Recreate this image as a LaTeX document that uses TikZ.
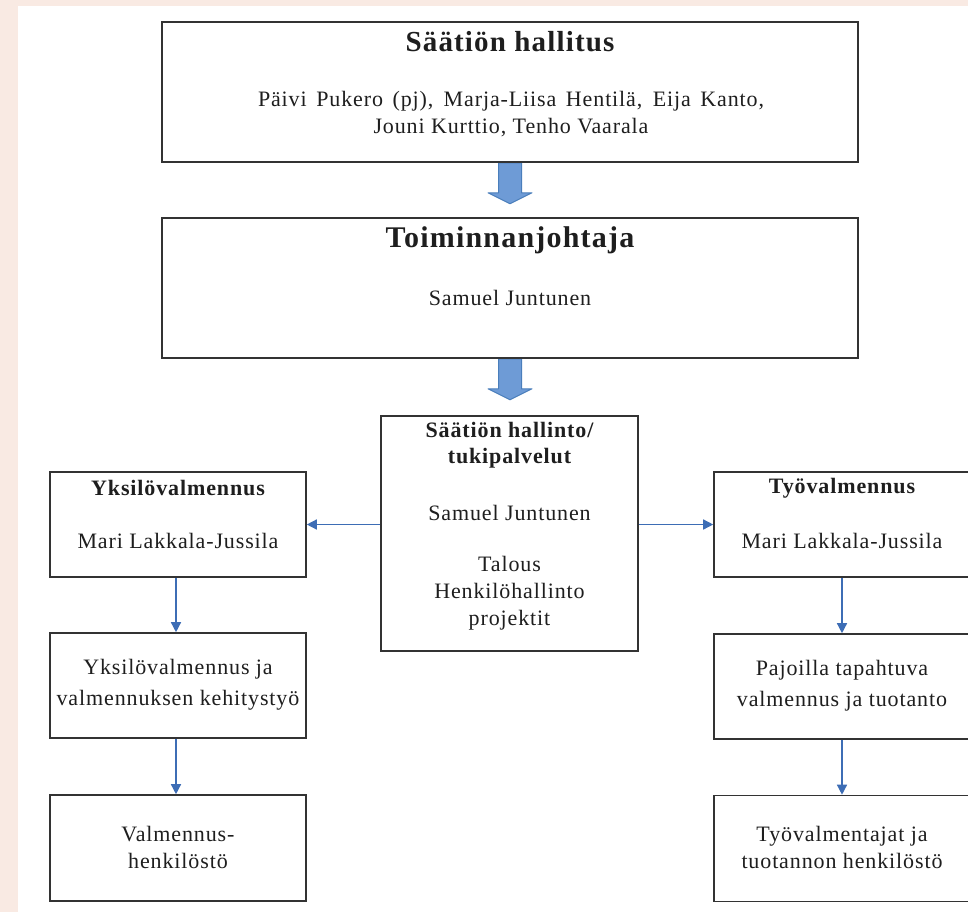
\documentclass[tikz,border=0pt]{standalone}
\usepackage{fontspec}
\setmainfont{Liberation Serif}[LetterSpace=4]
\usetikzlibrary{arrows.meta}
\pgfdeclarelayer{background}
\pgfsetlayers{background,main}
\definecolor{bgpink}{RGB}{249,234,227}
\definecolor{boxline}{RGB}{51,51,51}
\definecolor{connblue}{RGB}{61,109,181}
\definecolor{blkfill}{RGB}{110,155,214}
\definecolor{blkline}{RGB}{74,126,187}
\definecolor{txtcol}{RGB}{30,30,30}
\tikzset{
  box/.style={draw=boxline, line width=1.6pt, rectangle, inner sep=0pt},
  txt/.style={text=txtcol, align=center, font=\fontsize{22}{27}\selectfont, inner sep=0pt},
  ttl/.style={text=txtcol, align=center, font=\bfseries\fontsize{22}{26}\selectfont, inner sep=0pt},
  conn/.style={draw=connblue, line width=1.4pt, -{Triangle[length=10pt,width=10pt]}},
  blk/.style={fill=blkfill, draw=blkline, line width=1pt, line join=round},
}
\begin{document}
\begin{tikzpicture}[x=1pt,y=-1pt]
\useasboundingbox (0,0) rectangle (968,912);
% boxes
\node[box, minimum width=696pt, minimum height=140pt] (hall) at (510,92) {};
\node[box, minimum width=696pt, minimum height=140pt] (tj) at (510,288) {};
\node[box, minimum width=257pt, minimum height=235pt] (mid) at (509.5,533.5) {};
\node[box, minimum width=256pt, minimum height=105pt] (L1) at (178,524.5) {};
\node[box, minimum width=256pt, minimum height=105pt] (L2) at (178,685.5) {};
\node[box, minimum width=256pt, minimum height=106pt] (L3) at (178,848) {};
\node[box, minimum width=256pt, minimum height=105pt] (R1) at (842,524.5) {};
\node[box, minimum width=256pt, minimum height=105pt] (R2) at (842,686.5) {};
\node[box, minimum width=256pt, minimum height=106pt] (R3) at (842,848.5) {};
% background layer
\begin{pgfonlayer}{background}
\fill[bgpink] (0,0) rectangle (968,912);
\fill[white] (18,6) rectangle (968,912);
\draw[blk] (hall.south) ++(-11.5,0) -- ++(0,30) -- ++(-10.5,0) -- ++(22,11) -- ++(22,-11) -- ++(-10.5,0) -- ++(0,-30) -- cycle;
\draw[blk] (tj.south) ++(-11.5,0) -- ++(0,30) -- ++(-10.5,0) -- ++(22,11) -- ++(22,-11) -- ++(-10.5,0) -- ++(0,-30) -- cycle;
\end{pgfonlayer}
% texts
\node[ttl, font=\bfseries\fontsize{29}{32}\selectfont] (hallT) at (510,42) {Säätiön hallitus};
\node[txt] (hallB) at (511,114) {\makebox[506pt][s]{Päivi Pukero (pj), Marja-Liisa Hentilä, Eija Kanto,}\\Jouni Kurttio, Tenho Vaarala};
\node[ttl, font=\bfseries\fontsize{30}{32}\selectfont] (tjT) at (510,240) {Toiminnanjohtaja};
\node[txt] (tjB) at (510,298) {Samuel Juntunen};
\node[ttl] (midT) at (509.5,445) {Säätiön hallinto/\\tukipalvelut};
\node[txt] (midN) at (509.5,513) {Samuel Juntunen};
\node[txt] (midB) at (509.5,593) {Talous\\Henkilöhallinto\\projektit};
\node[ttl] (L1T) at (178,488) {Yksilövalmennus};
\node[txt] (L1B) at (178,541) {Mari Lakkala-Jussila};
\node[txt, font=\fontsize{22}{31}\selectfont] (L2B) at (178,685) {Yksilövalmennus ja\\valmennuksen kehitystyö};
\node[txt] (L3B) at (178,847) {Valmennus-\\henkilöstö};
\node[ttl] (R1T) at (842,488) {Työvalmennus};
\node[txt] (R1B) at (842,541) {Mari Lakkala-Jussila};
\node[txt, font=\fontsize{22}{31}\selectfont] (R2B) at (842,686) {Pajoilla tapahtuva\\valmennus ja tuotanto};
\node[txt] (R3B) at (842,847) {Työvalmentajat ja\\tuotannon henkilöstö};
% connectors
\draw[conn] (mid.west |- L1.east) -- (L1.east);
\draw[conn] (mid.east |- R1.west) -- (R1.west);
\draw[conn] ([xshift=-2pt]L1.south) -- ([xshift=-2pt]L2.north);
\draw[conn] ([xshift=-2pt]L2.south) -- ([xshift=-2pt]L3.north);
\draw[conn] (R1.south) -- (R2.north);
\draw[conn] (R2.south) -- (R3.north);
\end{tikzpicture}
\end{document}
